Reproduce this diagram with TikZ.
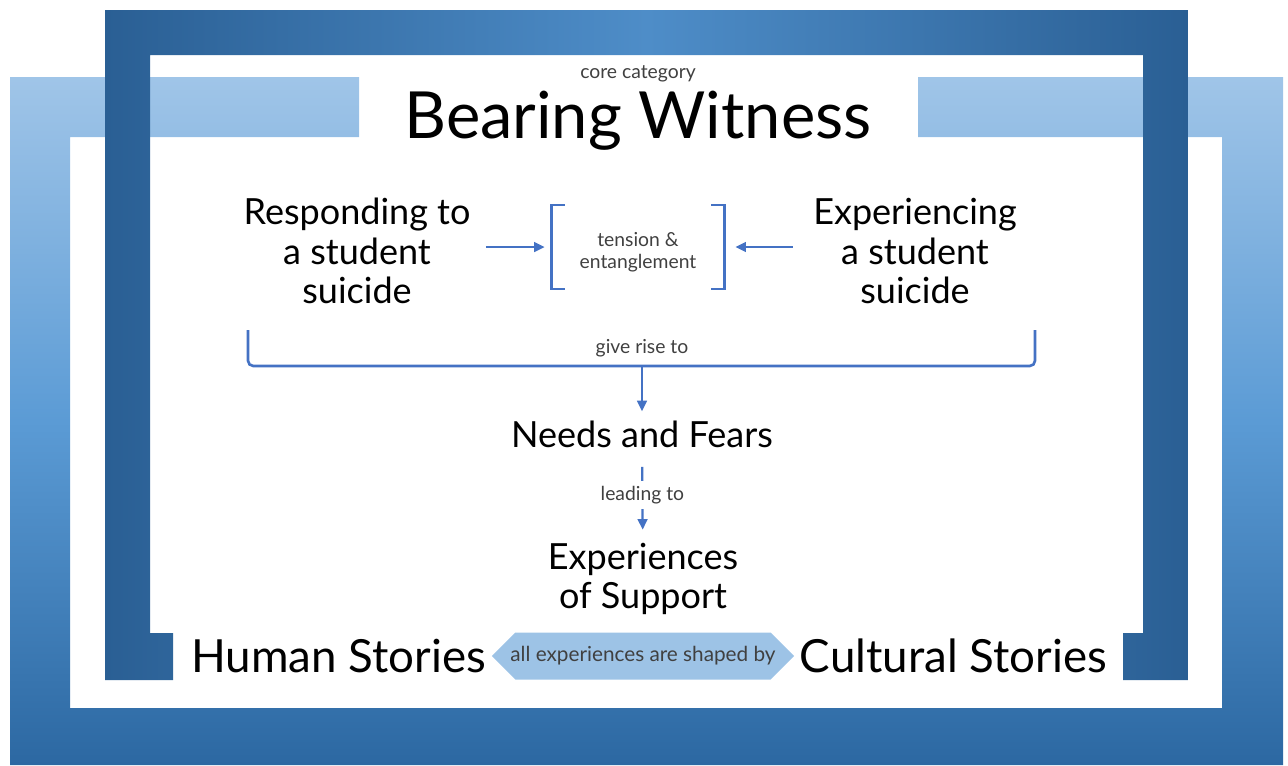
\documentclass[tikz,border=0pt]{standalone}
\usepackage{fontspec}
\setmainfont{Lato}
\usetikzlibrary{positioning}
\usetikzlibrary{shapes.symbols}
\usetikzlibrary{arrows.meta}
\definecolor{linkblue}{HTML}{4472C4}
\definecolor{frameDark}{HTML}{2A5F94}
\definecolor{frameMid}{HTML}{4E8DC8}
\definecolor{outerTop}{HTML}{A0C5E8}
\definecolor{outerMid}{HTML}{5B9BD5}
\definecolor{outerBot}{HTML}{2C68A2}
\definecolor{hexFill}{HTML}{9DC3E6}
\definecolor{noteGray}{HTML}{404040}

\begin{document}
\begin{tikzpicture}[x=0.02cm,y=-0.02cm,
		big/.style={font=\fontsize{20.5}{22.5}\selectfont, align=center, inner sep=0pt},
		story/.style={font=\fontsize{26}{28}\selectfont, inner sep=0pt},
		note/.style={font=\fontsize{11}{13}\selectfont, text=noteGray, align=center, inner sep=0pt},
		flow/.style={-{Triangle[length=6pt,width=5.5pt]}, linkblue, line width=1.3pt},
		brace/.style={linkblue, line width=1.5pt}]
			%	\draw[very thin,densely dashed] (0,0) grid[step=50] (1288,765);
			\useasboundingbox (0,0) rectangle (1288,765);
			\shade[top color=outerTop, bottom color=outerBot, middle color=outerMid]
			(10,765) -- (10,77) -- (359,77) -- (359,137) -- (70,137) -- (70,708) -- (1222,708)
			-- (1222,137) -- (918,137) -- (918,77) -- (1283,77) -- (1283,765) -- cycle;
			\shade[left color=frameDark, right color=frameDark, middle color=frameMid]
			(105,10) -- (1188,10) -- (1188,680) -- (1123,680) -- (1123,633) -- (1143,633) -- (1143,55)
			-- (150,55) -- (150,633) -- (173,633) -- (173,680) -- (105,680) -- cycle;
			\node[note] (core) at (638,74) {core category};
			\node[font=\fontsize{37}{39}\selectfont, inner sep=0pt] (BW) at (638,121) {Bearing Witness};
			\node[big] (resp) at (357,251) {Responding to\\a student\\suicide};
			\node[big] (exper) at (915,251) {Experiencing\\a student\\suicide};
			\node[note, text height=27pt, minimum width=3.44cm, minimum height=1.66cm] (tension) at (638,247) {tension \&\\entanglement};
			\draw[brace] ([xshift=0.26cm]tension.north west) -- (tension.north west)
			-- (tension.south west) -- ([xshift=0.26cm]tension.south west);
			\draw[brace] ([xshift=-0.26cm]tension.north east) -- (tension.north east)
			-- (tension.south east) -- ([xshift=-0.26cm]tension.south east);
			\draw[flow, shorten <=0.3cm, shorten >=0.14cm] (resp.east |- tension.west) -- (tension.west);
			\draw[flow, shorten <=0.4cm, shorten >=0.22cm] (exper.west |- tension.east) -- (tension.east);
			\coordinate (riseL) at (248,330);
			\coordinate (riseR) at (1035,330);
			\coordinate (rise) at (642,366);
			\draw[brace, rounded corners=3pt] (riseL) -- (riseL |- rise) -- (riseR |- rise) -- (riseR);
			\node[note] (giverise) at (642,348) {give rise to};
			\node[big] (needs) at (642,434) {Needs and Fears};
			\node[big] (support) at (643,579) {Experiences\\of Support};
			\draw (rise) edge[flow, shorten >=0.18cm] (needs)
			(needs) edge[flow, shorten <=0.38cm, shorten >=0.26cm] node[note, fill=white, inner xsep=2pt, inner ysep=3pt] (leadto) {leading to} (support);
			\node[note, font=\fontsize{11.8}{13}\selectfont, signal, signal to=west and east, fill=hexFill, inner xsep=-0.1cm, minimum width=6cm, minimum height=0.94cm] (shaped) at (643,656) {all experiences are shaped by};
			\node[story, left=0.1cm of shaped] (human) {Human Stories};
			\node[story, right=0.1cm of shaped] (cultural) {Cultural Stories};
		\end{tikzpicture}
\end{document}
